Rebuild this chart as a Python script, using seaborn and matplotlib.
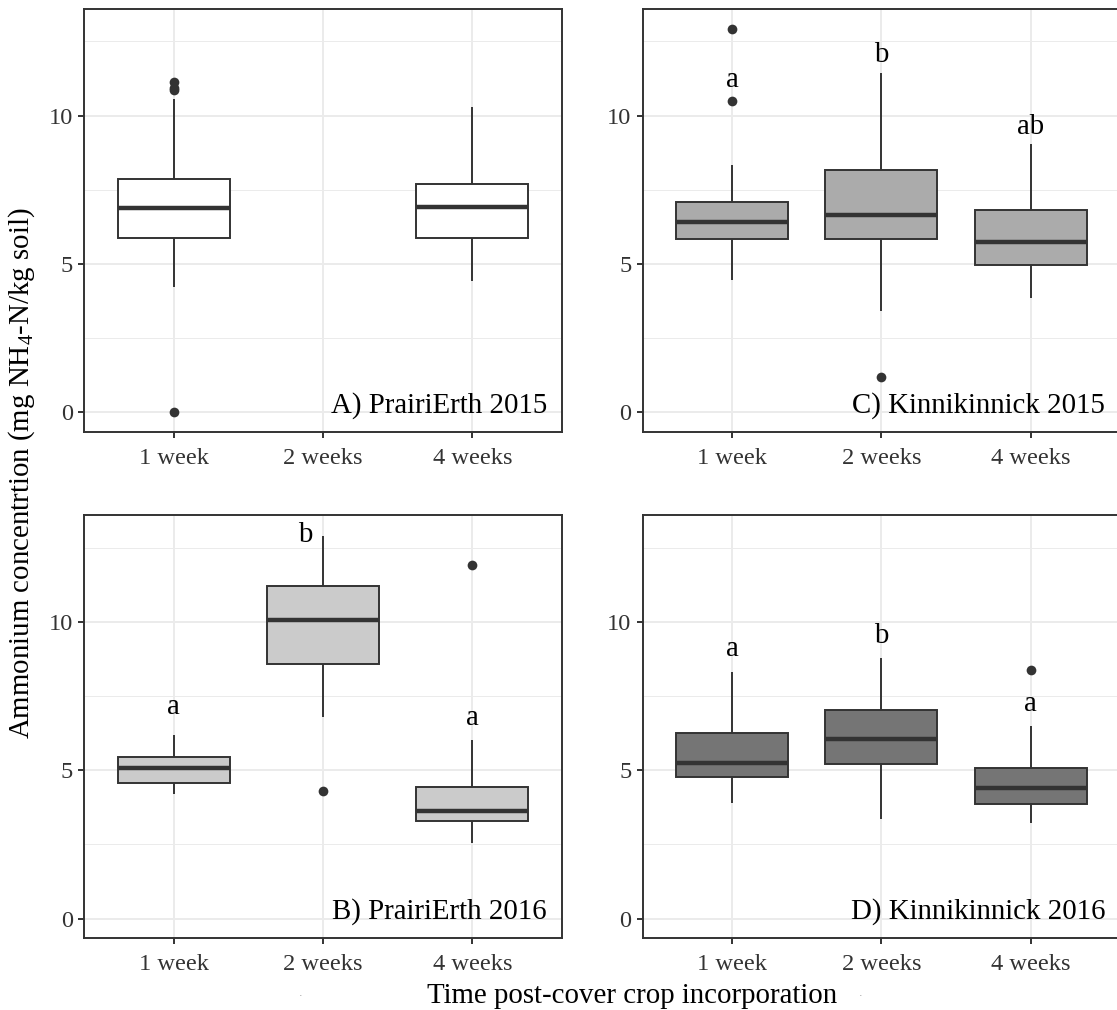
"""
Ammonium concentration box plots, 4 panels (site x year).
"""

import matplotlib
matplotlib.use('Agg')
import matplotlib.pyplot as plt
import pandas as pd
import seaborn as sns

# Data
TIMES = ['1 week', '2 weeks', '4 weeks']

# [lower whisker, q1, median, q3, upper whisker] per time point
a_stats = {'1 week': [4.22, 5.89, 6.89, 7.87, 10.56],
           '4 weeks': [4.42, 5.89, 6.93, 7.69, 10.29]}
b_stats = {'1 week': [4.21, 4.57, 5.08, 5.45, 6.20],
           '2 weeks': [6.80, 8.58, 10.07, 11.22, 12.89],
           '4 weeks': [2.56, 3.28, 3.63, 4.45, 6.02]}
c_stats = {'1 week': [4.47, 5.83, 6.42, 7.09, 8.33],
           '2 weeks': [3.40, 5.83, 6.66, 8.15, 11.42],
           '4 weeks': [3.84, 4.97, 5.73, 6.82, 9.04]}
d_stats = {'1 week': [3.89, 4.79, 5.23, 6.27, 8.32],
           '2 weeks': [3.37, 5.21, 6.06, 7.03, 8.77],
           '4 weeks': [3.21, 3.86, 4.40, 5.07, 6.48]}

# outliers
a_out = [('1 week', 11.12), ('1 week', 10.92), ('1 week', 10.85), ('1 week', 0.0)]
b_out = [('2 weeks', 4.30), ('4 weeks', 11.90)]
c_out = [('1 week', 12.90), ('1 week', 10.48), ('2 weeks', 1.20)]
d_out = [('4 weeks', 8.39)]

# significance letters and the height they sit at
b_letters = [('1 week', 'a', 6.89), ('2 weeks', 'b', 12.69), ('4 weeks', 'a', 6.53)]
c_letters = [('1 week', 'a', 10.97), ('2 weeks', 'b', 11.81), ('4 weeks', 'ab', 9.39)]
d_letters = [('1 week', 'a', 8.84), ('2 weeks', 'b', 9.29), ('4 weeks', 'a', 6.99)]

PANEL_LABELS = ['A) PrairiErth 2015', 'B) PrairiErth 2016',
                'C) Kinnikinnick 2015', 'D) Kinnikinnick 2016']

# Style
EDGE = '#333333'
GRID = '#EBEBEB'
FILLS = ['#FFFFFF', '#CBCBCB', '#ABABAB', '#757575']
BIG = 20.8
SMALL = 17.6

W, H = 1117, 1010

sns.set_theme(style='white')
plt.rcParams['font.family'] = ['Liberation Serif', 'DejaVu Serif']
plt.rcParams['mathtext.fontset'] = 'custom'
plt.rcParams['mathtext.rm'] = 'Liberation Serif'
plt.rcParams['mathtext.default'] = 'regular'


def draw_panel(ax, stats, outliers, fill, label, letters=(), letter_dx=None):
    rows = [(t, v) for t, vals in stats.items() for v in vals]
    df = pd.DataFrame(rows, columns=['time', 'value'])
    sns.boxplot(data=df, x='time', y='value', order=TIMES, color=fill,
                saturation=1, width=0.75, whis=(0, 100), showcaps=False,
                linecolor=EDGE, linewidth=1.4, fliersize=0,
                medianprops={'linewidth': 3.2, 'color': EDGE}, ax=ax)

    odf = pd.DataFrame(outliers, columns=['time', 'value'])
    sns.stripplot(data=odf, x='time', y='value', order=TIMES, jitter=False,
                  color=EDGE, size=7, linewidth=0, ax=ax, zorder=4)

    ax.set_xlim(-0.6, 2.6)
    ax.set_ylim(-0.65, 13.6)
    ax.set_yticks([0, 5, 10])
    ax.set_yticks([2.5, 7.5, 12.5], minor=True)
    ax.set_axisbelow(True)
    ax.grid(which='major', color=GRID, linewidth=1.4)
    ax.grid(which='minor', axis='y', color=GRID, linewidth=0.7)
    ax.tick_params(which='major', bottom=True, left=True, direction='out',
                   length=4, width=1.4, color=EDGE, labelsize=SMALL,
                   labelcolor='#333333')
    ax.tick_params(axis='x', which='major', pad=7.5)
    ax.tick_params(axis='y', which='major', pad=4)
    ax.tick_params(which='minor', length=0)
    ax.set_xlabel('')
    ax.set_ylabel('')
    for sp in ax.spines.values():
        sp.set_visible(True)
        sp.set_color(EDGE)
        sp.set_linewidth(1.4)

    # panel label, bottom right
    ax.text(2.5, 0, label, ha='right', va='baseline', fontsize=BIG, color='black')

    for t, letter, y in letters:
        x = TIMES.index(t)
        if letter_dx and t in letter_dx:
            x += letter_dx[t]
        ax.text(x, y, letter, ha='center', va='baseline', fontsize=BIG, color='black')


fig = plt.figure(figsize=(W / 100, H / 100), dpi=100)

pw = 477.5 / W
ph = 423 / H
left_col = 84.3 / W
right_col = 642.7 / W
top_row = 1 - 431.7 / H
bot_row = 1 - 938 / H

ax_a = fig.add_axes([left_col, top_row, pw, ph])
ax_b = fig.add_axes([left_col, bot_row, pw, ph])
ax_c = fig.add_axes([right_col, top_row, pw, ph])
ax_d = fig.add_axes([right_col, bot_row, pw, ph])

draw_panel(ax_a, a_stats, a_out, FILLS[0], PANEL_LABELS[0])
draw_panel(ax_b, b_stats, b_out, FILLS[1], PANEL_LABELS[1], b_letters,
           letter_dx={'2 weeks': -0.12})
draw_panel(ax_c, c_stats, c_out, FILLS[2], PANEL_LABELS[2], c_letters)
draw_panel(ax_d, d_stats, d_out, FILLS[3], PANEL_LABELS[3], d_letters)

fig.text(22 / W, 1 - 473 / H, 'Ammonium concentrtion (mg NH$_4$-N/kg soil)',
         rotation=90, ha='center', va='center', fontsize=BIG, color='black')
fig.text(632 / W, 1 - 1002.7 / H, 'Time post-cover crop incorporation',
         ha='center', va='baseline', fontsize=BIG, color='black')
# stray empty axis-title marks under the bottom panels
for xp in (300.7, 860):
    fig.text(xp / W, 1 - 996 / H, '.', ha='center', va='baseline',
             fontsize=5, color=EDGE)

fig.savefig('out.png', dpi=100)
plt.close(fig)
